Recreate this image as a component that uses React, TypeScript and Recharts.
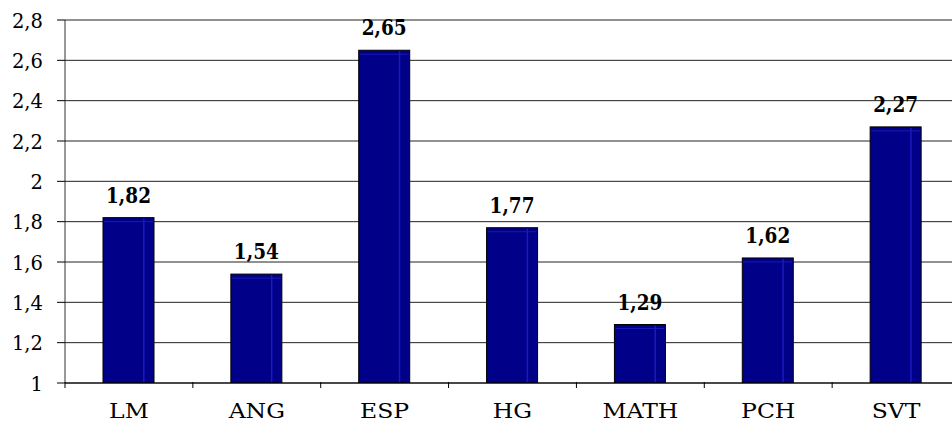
import React from 'react';
import { BarChart, Bar, XAxis, YAxis, CartesianGrid, LabelList } from 'recharts';

const subjects = ['LM', 'ANG', 'ESP', 'HG', 'MATH', 'PCH', 'SVT'];
const averages = [1.82, 1.54, 2.65, 1.77, 1.29, 1.62, 2.27];
const yTicks = [1, 1.2, 1.4, 1.6, 1.8, 2, 2.2, 2.4, 2.6, 2.8];

const data = subjects.map((s, i) => ({ subject: s, value: averages[i] }));

const CHART_W = 960;
const PLOT_LEFT = 65;
const PLOT_RIGHT = 0;
const bandWidth = (CHART_W - PLOT_LEFT - PLOT_RIGHT) / subjects.length;

const fmt = (v: number) => String(v).replace('.', ',');
const serif = "'DejaVu Serif', 'Liberation Serif', serif";

// glyph widths differ from the original export, so each label is scaled sideways
const Txt = ({ x, y, anchor, size, bold, stretch = 1, children }: any) => (
  <text
    transform={`translate(${x},${y}) scale(${stretch},1)`}
    textAnchor={anchor}
    fontFamily={serif}
    fontSize={size}
    fontWeight={bold ? 'bold' : 'normal'}
    fill="#000"
  >
    {children}
  </text>
);

// category ticks sit between the bars, labels under the centre
const XTick = (props: any) => {
  const { x, y, payload } = props;
  const left = x - bandWidth / 2;
  return (
    <g>
      <line x1={left} y1={y - 1} x2={left} y2={y + 5} stroke="#000" />
      {payload.index === subjects.length - 1 && (
        <line x1={left + bandWidth} y1={y - 1} x2={left + bandWidth} y2={y + 5} stroke="#000" />
      )}
      <Txt x={x} y={y + 35} anchor="middle" size={21} stretch={1.12}>{payload.value}</Txt>
    </g>
  );
};

const YTick = (props: any) => {
  const { x, y, payload } = props;
  return <Txt x={x} y={y + 7.5} anchor="end" size={21} stretch={0.93}>{fmt(payload.value)}</Txt>;
};

const ValueLabel = (props: any) => {
  const { x, y, width, value } = props;
  return <Txt x={x + width / 2} y={y - 15} anchor="middle" size={22} bold stretch={0.84}>{fmt(value)}</Txt>;
};

const BarShape = (props: any) => {
  const { x, y, width, height } = props;
  if (!height || height <= 0) return null;
  return (
    <g>
      <rect x={x} y={y} width={width} height={height} fill="#000088" stroke="#000" strokeWidth={1} />
      <line x1={x + width * 0.8} y1={y + 1} x2={x + width * 0.8} y2={y + height - 1} stroke="#1a1ac0" strokeWidth={1.5} />
      <line x1={x + 1} y1={y + 4} x2={x + width - 1} y2={y + 4} stroke="#1a1ab0" strokeWidth={1} />
    </g>
  );
};

export default function App() {
  return (
    <div style={{ position: 'absolute', left: 0, top: 0, width: 952, height: 423, overflow: 'hidden', background: '#fff' }}>
      <BarChart
        width={CHART_W}
        height={423}
        data={data}
        margin={{ top: 20, right: PLOT_RIGHT, left: 0, bottom: 10 }}
        barCategoryGap={0}
      >
        <CartesianGrid vertical={false} stroke="#222" strokeWidth={1} />
        <XAxis
          dataKey="subject"
          height={30}
          axisLine={{ stroke: '#000' }}
          tickLine={false}
          tickSize={0}
          tickMargin={0}
          tick={<XTick />}
          interval={0}
        />
        <YAxis
          width={PLOT_LEFT}
          domain={[1, 2.8]}
          ticks={yTicks}
          axisLine={{ stroke: '#333' }}
          tickLine={{ stroke: '#000' }}
          tickSize={8}
          tickMargin={14}
          tick={<YTick />}
          allowDataOverflow
        />
        <Bar dataKey="value" barSize={51} shape={<BarShape />} isAnimationActive={false}>
          <LabelList dataKey="value" content={<ValueLabel />} />
        </Bar>
      </BarChart>
    </div>
  );
}
